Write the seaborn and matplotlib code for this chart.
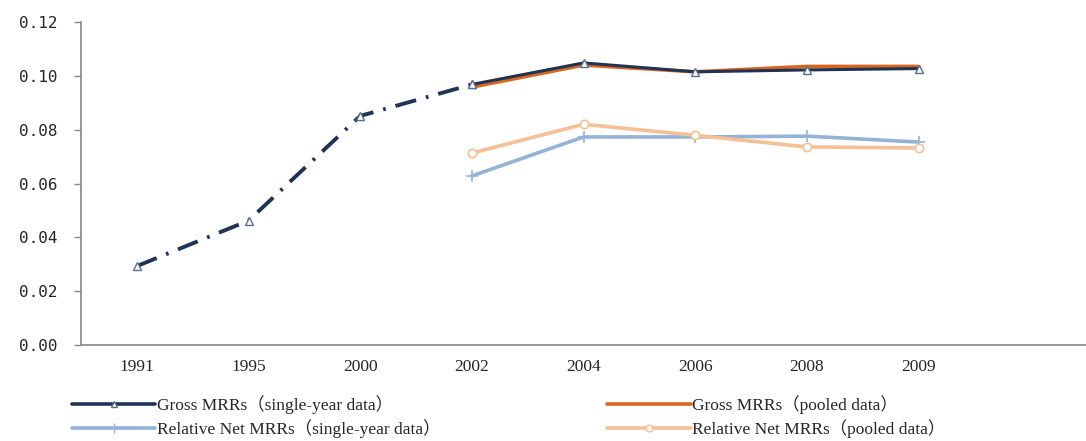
import numpy as np
import pandas as pd
import matplotlib
matplotlib.use("Agg")
import matplotlib.pyplot as plt
import seaborn as sns
from matplotlib.lines import Line2D

years = ["1991", "1995", "2000", "2002", "2004", "2006", "2008", "2009"]
gross_single = [0.0293, 0.0462, 0.0851, 0.0968, 0.1048, 0.1015, 0.1022, 0.1027]
gross_pooled = [None, None, None, 0.0958, 0.1040, 0.1015, 0.1035, 0.1035]
rel_single = [None, None, None, 0.0628, 0.0773, 0.0773, 0.0776, 0.0754]
rel_pooled = [None, None, None, 0.0713, 0.0820, 0.0779, 0.0736, 0.0732]
yticks = [0.00, 0.02, 0.04, 0.06, 0.08, 0.10, 0.12]

names = ["Gross MRRs（single-year data）", "Gross MRRs（pooled data）",
         "Relative Net MRRs（single-year data）", "Relative Net MRRs（pooled data）"]
colors = ["#1f3354", "#d9661f", "#95b3d7", "#f6bf94"]

sns.set_theme(style="white")
plt.rcParams["font.family"] = ["Liberation Serif", "Noto Sans CJK SC", "DejaVu Serif"]

pos = np.arange(len(years))
df = pd.DataFrame({"pos": pos, "gs": gross_single, "gp": gross_pooled,
                   "rs": rel_single, "rp": rel_pooled})

fig = plt.figure(figsize=(10.86, 4.41), dpi=100)
ax = fig.add_axes([0.0746, 0.2177, 0.9254, 0.7324])

early = df[df["pos"] <= 3]
late = df[df["pos"] >= 3]

# early single-year estimates drawn dash-dot
sns.lineplot(data=early, x="pos", y="gs", ax=ax, color=colors[0], lw=2.8,
             marker="^", markersize=6, markerfacecolor="white",
             markeredgecolor="#5a6e8c", markeredgewidth=1)
ax.lines[-1].set_dashes([5.5, 2.6, 0.7, 2.6])
sns.lineplot(data=late, x="pos", y="gp", ax=ax, color=colors[1], lw=2.6)
sns.lineplot(data=late, x="pos", y="gs", ax=ax, color=colors[0], lw=2.2,
             marker="^", markersize=6, markerfacecolor="white",
             markeredgecolor="#5a6e8c", markeredgewidth=1)
sns.lineplot(data=late, x="pos", y="rs", ax=ax, color=colors[2], lw=2.6,
             marker="+", markersize=8, markeredgewidth=1.2,
             markeredgecolor=colors[2])
sns.lineplot(data=late, x="pos", y="rp", ax=ax, color=colors[3], lw=2.6,
             marker="o", markersize=6, markerfacecolor="white",
             markeredgecolor=colors[3], markeredgewidth=1.2)

ax.set_xlim(-0.5, 8.35)
ax.set_ylim(0, 0.12)
ax.set_yticks(yticks)
ax.set_yticklabels([f"{v:.2f}" for v in yticks], fontsize=11.5,
                   family="DejaVu Sans Mono")
ax.set_xticks(pos)
ax.set_xticklabels(years, fontsize=12.5)
ax.set_xticks(np.arange(-0.5, 9.0, 1.0), minor=True)
ax.tick_params(axis="x", which="major", length=0, pad=10)
ax.tick_params(axis="x", which="minor", length=5, color="#888888", width=1,
               direction="out")
ax.tick_params(axis="y", length=5, color="#888888", width=1, direction="out",
               left=True, pad=12)
ax.set_xlabel("")
ax.set_ylabel("")
for s in ["top", "right"]:
    ax.spines[s].set_visible(False)
for s in ["left", "bottom"]:
    ax.spines[s].set_color("#888888")
    ax.spines[s].set_linewidth(1.2)

handles = [
    Line2D([0], [0], color=colors[0], lw=2.6, marker="^", markersize=5,
           markerfacecolor="white", markeredgecolor="#5a6e8c"),
    Line2D([0], [0], color=colors[1], lw=2.6),
    Line2D([0], [0], color=colors[2], lw=2.6, marker="+", markersize=7),
    Line2D([0], [0], color=colors[3], lw=2.6, marker="o", markersize=5,
           markerfacecolor="white", markeredgecolor=colors[3]),
]
order = [0, 2, 1, 3]
fig.legend([handles[i] for i in order], [names[i] for i in order],
           loc="lower left", bbox_to_anchor=(0.052, -0.028), ncol=2,
           frameon=False, fontsize=12.5, handlelength=4.8, handletextpad=0.1,
           columnspacing=9.6, labelspacing=0.3)

fig.savefig("out.png", dpi=100)
